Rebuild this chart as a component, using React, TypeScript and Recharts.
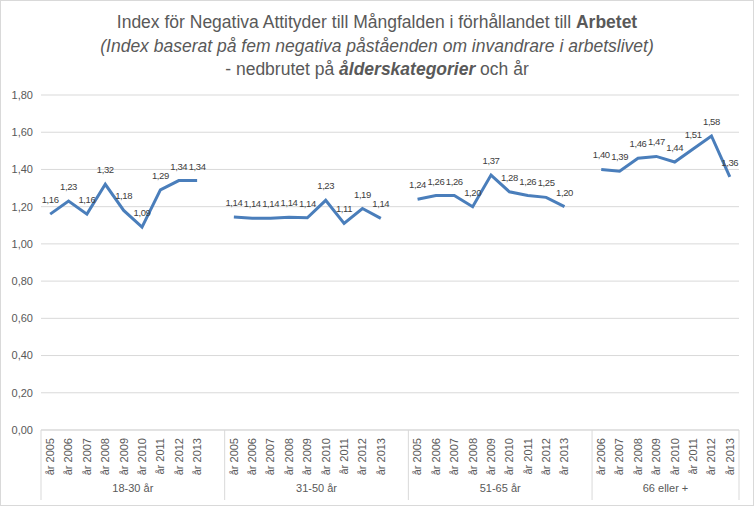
import React from 'react'
import { LineChart, Line, XAxis, YAxis, CartesianGrid, LabelList } from 'recharts'

// age groups on the outer category level
const ageGroups = ['18-30 år', '31-50 år', '51-65 år', '66 eller +']

// inner category level (years per group)
const years0513 = ['år 2005', 'år 2006', 'år 2007', 'år 2008', 'år 2009', 'år 2010', 'år 2011', 'år 2012', 'år 2013']
const years0613 = ['år 2006', 'år 2007', 'år 2008', 'år 2009', 'år 2010', 'år 2011', 'år 2012', 'år 2013']

// index values per age group
const index1830 = [1.16, 1.23, 1.16, 1.32, 1.18, 1.09, 1.29, 1.34, 1.34]
const index3150 = [1.144, 1.138, 1.138, 1.143, 1.14, 1.234, 1.11, 1.19, 1.137]
const index5165 = [1.24, 1.26, 1.26, 1.2, 1.37, 1.28, 1.26, 1.25, 1.2]
const index66 = [1.4, 1.39, 1.46, 1.47, 1.44, 1.51, 1.58, 1.36]

const yTicks = [0, 0.2, 0.4, 0.6, 0.8, 1.0, 1.2, 1.4, 1.6, 1.8]

const groupYears = [years0513, years0513, years0513, years0613]
const groupValues = [index1830, index3150, index5165, index66]

// build rows; an empty slot after each group (except the last) breaks the line
type Row = { label: string; value: number | null; group: number; first: boolean; size: number; last: boolean }
const rows: Row[] = []
ageGroups.forEach((g, gi) => {
  const hasBlank = gi < ageGroups.length - 1
  const size = groupYears[gi].length + (hasBlank ? 1 : 0)
  groupYears[gi].forEach((y, i) => {
    rows.push({ label: y, value: groupValues[gi][i], group: gi, first: i === 0, size, last: false })
  })
  if (hasBlank) rows.push({ label: '', value: null, group: gi, first: false, size, last: false })
})
rows[rows.length - 1].last = true

const W = 754
const H = 506
const margin = { top: 95, right: 15, left: 0, bottom: 6 }
const Y_W = 41
const X_H = 70
const PLOT_W = W - margin.left - margin.right - Y_W
const SLOT = PLOT_W / rows.length
const AXIS_Y = H - margin.bottom - X_H

const FONT = '"Liberation Sans", Arial, sans-serif'
const GRID = '#D9D9D9'
const TEXT = '#595959'

const fmt = (v: any) => (v == null ? '' : Number(v).toFixed(2).replace('.', ','))

function CategoryTick(props: any) {
  const { x, index } = props
  const row = rows[index]
  if (!row) return null
  const left = x - SLOT / 2
  return (
    <g>
      {row.label && (
        <text
          x={x}
          y={AXIS_Y + 8}
          transform={`rotate(-90, ${x}, ${AXIS_Y + 8})`}
          textAnchor="end"
          dy="0.35em"
          fontSize={11}
          fontFamily={FONT}
          fill={TEXT}
        >
          {row.label}
        </text>
      )}
      {row.first && (
        <>
          <line x1={left} x2={left} y1={AXIS_Y} y2={AXIS_Y + 70} stroke={GRID} />
          <text
            x={left + (row.size * SLOT) / 2}
            y={AXIS_Y + 62}
            textAnchor="middle"
            fontSize={11}
            fontFamily={FONT}
            fill={TEXT}
          >
            {ageGroups[row.group]}
          </text>
        </>
      )}
      {row.last && <line x1={x + SLOT / 2} x2={x + SLOT / 2} y1={AXIS_Y} y2={AXIS_Y + 70} stroke={GRID} />}
    </g>
  )
}

export default function App() {
  return (
    <div style={{ position: 'absolute', left: 0, top: 0, width: W, height: H, background: '#fff' }}>
      <div
        style={{
          position: 'absolute',
          left: 0,
          top: 0,
          width: W,
          height: H,
          boxSizing: 'border-box',
          border: `1px solid ${GRID}`,
          pointerEvents: 'none',
        }}
      />
      <div
        style={{
          position: 'absolute',
          left: 0,
          top: 11,
          width: W,
          textAlign: 'center',
          fontFamily: FONT,
          fontSize: 17.5,
          lineHeight: '23.5px',
          color: TEXT,
        }}
      >
        <div>
          Index för Negativa Attityder till Mångfalden i förhållandet till <b>Arbetet</b>
        </div>
        <div style={{ fontStyle: 'italic' }}>(Index baserat på fem negativa påståenden om invandrare i arbetslivet)</div>
        <div>
          - nedbrutet på <b style={{ fontStyle: 'italic' }}>ålderskategorier</b> och år
        </div>
      </div>
      <LineChart width={W} height={H} data={rows} margin={margin}>
        <CartesianGrid vertical={false} stroke={GRID} />
        <XAxis
          dataKey="label"
          interval={0}
          height={X_H}
          padding={{ left: SLOT / 2, right: SLOT / 2 }}
          axisLine={{ stroke: GRID }}
          tickLine={false}
          tick={<CategoryTick />}
        />
        <YAxis
          width={Y_W}
          domain={[0, 1.8]}
          ticks={yTicks}
          tickFormatter={fmt}
          axisLine={false}
          tickLine={false}
          tick={{ fontSize: 11, fill: TEXT, fontFamily: FONT }}
        />
        <Line
          dataKey="value"
          stroke="#4A7EBB"
          strokeWidth={3}
          dot={false}
          connectNulls={false}
          isAnimationActive={false}
        >
          <LabelList
            dataKey="value"
            position="top"
            offset={11}
            formatter={fmt}
            fontSize={9.5}
            letterSpacing={-0.4}
            fontFamily={FONT}
            fill="#404040"
          />
        </Line>
      </LineChart>
    </div>
  )
}
